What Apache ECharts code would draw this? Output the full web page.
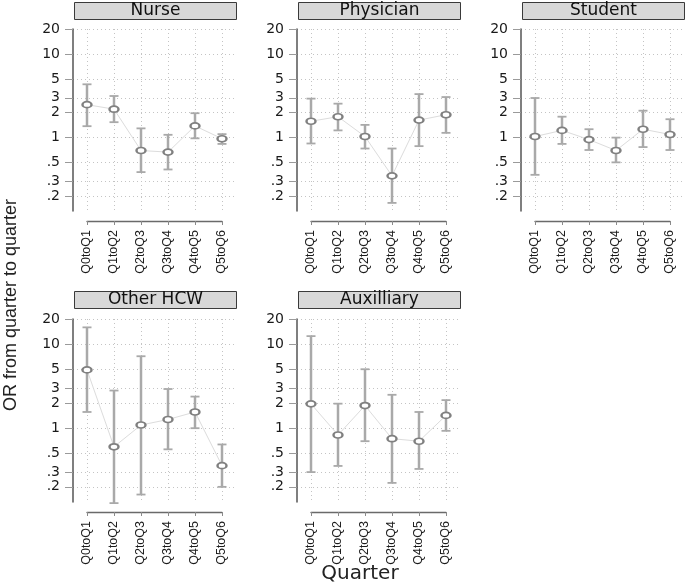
<!DOCTYPE html>
<html>
<head>
<meta charset="utf-8">
<script src="https://cdn.jsdelivr.net/npm/echarts@6/dist/echarts.min.js"></script>
<style>
html,body{margin:0;padding:0;background:#fff;}
#chart{width:685px;height:587px;}
</style>
</head>
<body>
<div id="chart"></div>
<script>
// ---- data ----
const quarters = ['Q0toQ1','Q1toQ2','Q2toQ3','Q3toQ4','Q4toQ5','Q5toQ6'];
const groups = ['Nurse','Physician','Student','Other HCW','Auxilliary'];
const yTicks = [0.2,0.3,0.5,1,2,3,5,10,20];

const nurseOR   = [2.48, 2.19, 0.70, 0.67, 1.38, 0.97];
const nurseLo   = [1.37, 1.53, 0.386, 0.415, 0.98, 0.84];
const nurseHi   = [4.35, 3.15, 1.29, 1.08, 1.96, 1.10];

const physOR    = [1.57, 1.78, 1.03, 0.348, 1.62, 1.88];
const physLo    = [0.85, 1.22, 0.74, 0.165, 0.79, 1.14];
const physHi    = [2.93, 2.55, 1.42, 0.74, 3.32, 3.06];

const studOR    = [1.03, 1.22, 0.946, 0.70, 1.26, 1.09];
const studLo    = [0.358, 0.84, 0.71, 0.505, 0.77, 0.71];
const studHi    = [2.98, 1.78, 1.26, 1.0, 2.10, 1.66];

const otherOR   = [4.95, 0.60, 1.09, 1.27, 1.56, 0.358];
const otherLo   = [1.56, 0.128, 0.162, 0.56, 1.0, 0.20];
const otherHi   = [15.9, 2.81, 7.2, 2.93, 2.38, 0.64];

const auxOR     = [1.95, 0.83, 1.86, 0.75, 0.70, 1.42];
const auxLo     = [0.30, 0.355, 0.70, 0.223, 0.327, 0.93];
const auxHi     = [12.5, 1.96, 5.04, 2.50, 1.56, 2.16];

const yMin = 0.132, yMax = 20;

// ---- layout ----
const panels = [
  {name: groups[0], or: nurseOR, lo: nurseLo, hi: nurseHi, left: 73,  top: 29,  h: 182},
  {name: groups[1], or: physOR,  lo: physLo,  hi: physHi,  left: 297, top: 29,  h: 182},
  {name: groups[2], or: studOR,  lo: studLo,  hi: studHi,  left: 521, top: 29,  h: 182},
  {name: groups[3], or: otherOR, lo: otherLo, hi: otherHi, left: 73,  top: 319, h: 183},
  {name: groups[4], or: auxOR,   lo: auxLo,   hi: auxHi,   left: 297, top: 319, h: 183}
];
const PW = 163, INSET = 14;

const tickFmt = v => {
  const s = String(v);
  return v < 1 ? s.replace(/^0/, '') : s;
};

const grids = [], xAxes = [], yAxes = [], series = [], graphics = [];

panels.forEach((p, k) => {
  // grid A: full panel width, horizontal grid lines only
  grids.push({left: p.left, top: p.top, width: PW, height: p.h, containLabel: false});
  xAxes.push({gridIndex: 2*k, type: 'value', min: 0, max: 1, show: false});
  yAxes.push({
    gridIndex: 2*k, type: 'log', logBase: 10, min: yMin, max: yMax,
    axisLine: {show: false}, axisLabel: {show: false},
    axisTick: {show: false, customValues: yTicks},
    splitLine: {show: true, lineStyle: {color: '#c4c4c4', width: 1, type: [1, 3]}}
  });
  // grid B: categories from first to last tick
  grids.push({left: p.left + INSET, top: p.top, width: PW - 2*INSET, height: p.h, containLabel: false});
  xAxes.push({
    gridIndex: 2*k+1, type: 'category', data: quarters, boundaryGap: false, offset: 10,
    axisLine: {show: true, lineStyle: {color: '#6a6a6a', width: 1.3}},
    axisTick: {show: true, length: 4, alignWithLabel: true, lineStyle: {color: '#8a8a8a'}},
    axisLabel: {rotate: 90, margin: 9, fontFamily: 'Liberation Sans', fontSize: 12.5, color: '#1a1a1a'},
    splitLine: {show: true, lineStyle: {color: '#c4c4c4', width: 1, type: [1, 3]}}
  });
  yAxes.push({
    gridIndex: 2*k+1, type: 'log', logBase: 10, min: yMin, max: yMax, offset: INSET,
    axisLine: {show: true, lineStyle: {color: '#555', width: 1.5}},
    axisTick: {show: true, length: 8, customValues: yTicks, lineStyle: {color: '#9a9a9a'}},
    axisLabel: {show: true, customValues: yTicks, formatter: tickFmt, margin: 13,
      fontFamily: 'DejaVu Sans', fontSize: 14, color: '#1a1a1a'},
    splitLine: {show: false}
  });
  const xi = 2*k+1, yi = 2*k+1;
  // connecting line
  series.push({
    type: 'line', xAxisIndex: xi, yAxisIndex: yi, data: p.or,
    symbol: 'none', lineStyle: {color: '#dcdcdc', width: 1}, z: 1, silent: true
  });
  // error bars
  series.push({
    type: 'custom', xAxisIndex: xi, yAxisIndex: yi,
    data: p.or.map((v, i) => [i, p.lo[i], p.hi[i]]),
    encode: {x: 0, y: [1, 2]}, z: 2,
    renderItem: (params, api) => {
      const x = api.value(0);
      const a = api.coord([x, api.value(1)]);
      const b = api.coord([x, api.value(2)]);
      const c = 4.5;
      const st = {stroke: '#a9a9a9', lineWidth: 2.5};
      const cs = {stroke: '#a9a9a9', lineWidth: 1.8};
      return {type: 'group', children: [
        {type: 'line', shape: {x1: a[0], y1: a[1], x2: b[0], y2: b[1]}, style: st},
        {type: 'line', shape: {x1: a[0]-c, y1: a[1], x2: a[0]+c, y2: a[1]}, style: cs},
        {type: 'line', shape: {x1: b[0]-c, y1: b[1], x2: b[0]+c, y2: b[1]}, style: cs}
      ]};
    }
  });
  // point estimates
  series.push({
    type: 'scatter', xAxisIndex: xi, yAxisIndex: yi,
    data: p.or.map((v, i) => [i, v]),
    symbol: 'emptyCircle', symbolSize: [9, 6], z: 5,
    itemStyle: {color: '#808080', borderColor: '#808080', borderWidth: 1.5, opacity: 1}
  });
  // header strip
  const hy = p.top < 100 ? 2 : 291;
  graphics.push({
    type: 'rect', left: p.left + 1, top: hy,
    shape: {width: PW - 1, height: 17},
    style: {fill: '#d8d8d8', stroke: '#3a3a3a', lineWidth: 1}
  });
  graphics.push({
    type: 'text', x: p.left + 1 + PW/2, y: hy + 9,
    style: {text: p.name, align: 'center', verticalAlign: 'middle',
      font: '17px "DejaVu Sans"', fill: '#111'}
  });
});

graphics.push({
  type: 'text', x: 11, y: 305, rotation: Math.PI/2,
  style: {text: 'OR from quarter to quarter', align: 'center', verticalAlign: 'middle',
    font: '18px "Liberation Sans"', fill: '#222'}
});
graphics.push({
  type: 'text', x: 360, y: 574,
  style: {text: 'Quarter', align: 'center', verticalAlign: 'middle',
    font: '20px "DejaVu Sans"', fill: '#222'}
});

const chart = echarts.init(document.getElementById('chart'), null, {renderer: 'canvas'});
chart.setOption({
  backgroundColor: '#fff',
  animation: false,
  grid: grids,
  xAxis: xAxes,
  yAxis: yAxes,
  series: series,
  graphic: graphics
});
</script>
</body>
</html>
